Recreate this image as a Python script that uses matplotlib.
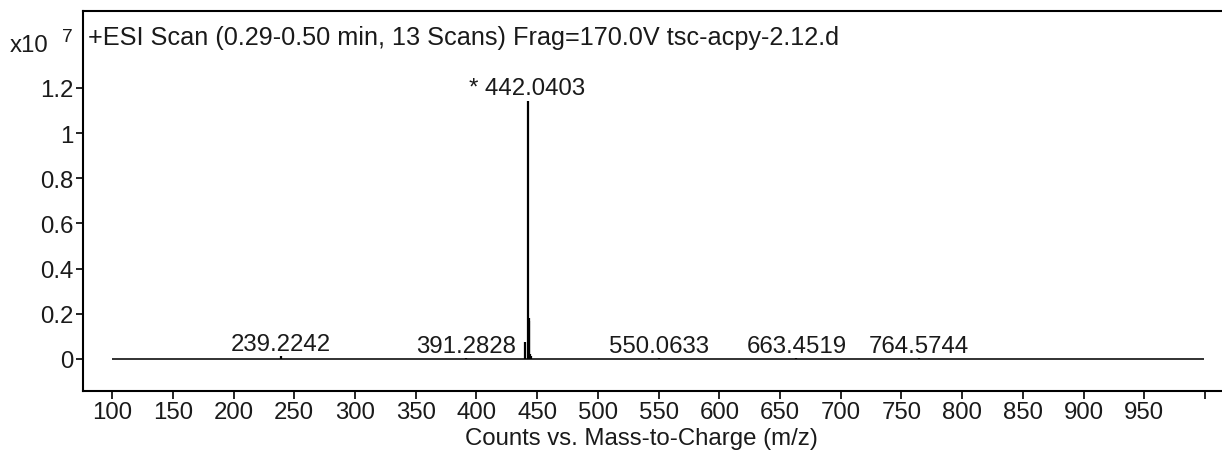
import matplotlib
matplotlib.use("Agg")
import matplotlib.pyplot as plt
import numpy as np

plt.rcParams['font.family'] = ['Liberation Sans', 'DejaVu Sans']

# Data (intensity in units of 1e7 counts)
mz_range = [100.0, 999.0]
peak_mz = [239.2242, 391.2828, 439.9, 442.0403, 443.05, 443.5, 444.05, 445.0, 550.0633, 663.4519, 764.5744]
peak_int = [0.012, 0.004, 0.075, 1.143, 0.18, 0.17, 0.02, 0.012, 0.003, 0.003, 0.003]
label_mz = [239.2242, 391.2828, 442.0403, 550.0633, 663.4519, 764.5744]
label_int = [0.012, 0.004, 1.143, 0.003, 0.003, 0.003]
label_txt = ["239.2242", "391.2828", "* 442.0403", "550.0633", "663.4519", "764.5744"]
xticks = list(range(100, 1001, 50))
xticklabels = [str(t) for t in xticks[:-1]] + [""]
yticks = [0, 0.2, 0.4, 0.6, 0.8, 1.0, 1.2]
yticklabels = ["0", "0.2", "0.4", "0.6", "0.8", "1", "1.2"]
title = "+ESI Scan (0.29-0.50 min, 13 Scans) Frag=170.0V tsc-acpy-2.12.d"
xlabel = "Counts vs. Mass-to-Charge (m/z)"

W, H = 1222, 452
fig = plt.figure(figsize=(W / 100, H / 100), dpi=100)
ax = fig.add_axes([83 / W, 1 - 392 / H, 1 - 83 / W + 0.01, (392 - 12) / H])

fs = 17.3
col = "#1a1a1a"
ax.hlines(0, mz_range[0], mz_range[1], color="#222222", lw=1.3)
ax.vlines(peak_mz, 0, peak_int, color="black", lw=1.6)

for mz, it, t in zip(label_mz, label_int, label_txt):
    ax.annotate(t, (mz, it), xytext=(0, 1), textcoords="offset points",
                ha="center", va="bottom", fontsize=fs, color=col)

ax.set_xlim(76, 1024)
ax.set_ylim(-0.142, 1.541)
ax.set_xticks(xticks)
ax.set_xticklabels(xticklabels)
ax.set_yticks(yticks)
ax.set_yticklabels(yticklabels)
ax.tick_params(axis="both", labelsize=fs, colors="black", labelcolor=col, width=1.2)
ax.tick_params(axis="x", length=6, pad=1)
ax.tick_params(axis="y", length=5, pad=2)
for s in ["left", "bottom", "top"]:
    ax.spines[s].set_linewidth(1.5)
    ax.spines[s].set_color("black")
ax.spines["right"].set_visible(False)

ax.text(88 / W, 1 - 38 / H, title, transform=fig.transFigure, ha="left", va="center",
        fontsize=18.2, color=col)
fig.text(10 / W, 1 - 46 / H, "x10", ha="left", va="center", fontsize=fs, color=col)
fig.text(62 / W, 1 - 38 / H, "7", ha="left", va="center", fontsize=fs * 0.8, color=col)
fig.text(641 / W, 1 - 439 / H, xlabel, ha="center", va="center", fontsize=fs, color=col)

fig.savefig("out.png", dpi=100)
